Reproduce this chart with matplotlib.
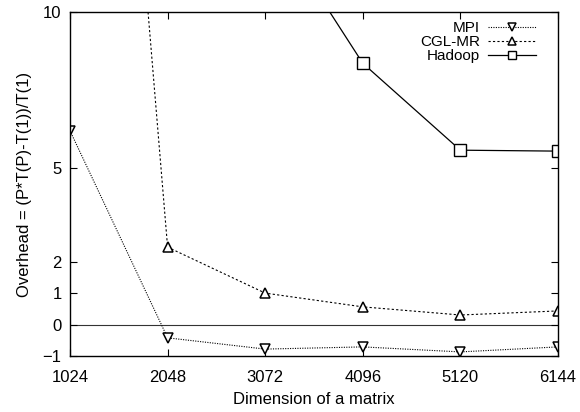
import matplotlib
matplotlib.use("Agg")
import matplotlib.pyplot as plt

plt.rcParams["font.family"] = ["Liberation Sans", "DejaVu Sans"]

# ── data ─────────────────────────────────────────────────────────────────────
dims = [1024, 2048, 3072, 4096, 5120, 6144]
mpi = [6.2, -0.42, -0.78, -0.71, -0.87, -0.71]
cgl_mr = [40.0, 2.48, 1.01, 0.57, 0.31, 0.44]
hadoop_dims = [3072, 4096, 5120, 6144]
hadoop = [13.2, 8.36, 5.58, 5.55]

y_ticks = [-1, 0, 1, 2, 5, 10]

# ── plot ─────────────────────────────────────────────────────────────────────
fig = plt.figure(figsize=(5.8, 4.12), dpi=100)
ax = fig.add_axes([0.1207, 0.136, 0.962 - 0.1207, 0.971 - 0.136])

ax.axhline(0, color="#333333", lw=0.8, zorder=1)

ax.plot(dims, mpi, color="black", lw=0.8, ls=(0, (1, 1.2)),
        marker="v", ms=7, mfc="white", mec="black", mew=1.1, label="MPI")
ax.plot(dims, cgl_mr, color="black", lw=0.8, ls=(0, (2, 2)),
        marker="^", ms=7, mfc="white", mec="black", mew=1.1, label="CGL-MR")
ax.plot(hadoop_dims, hadoop, color="black", lw=0.9, ls="-",
        marker="s", ms=8, mfc="white", mec="black", mew=1.0, label="Hadoop")

ax.set_xlim(1024, 6144)
ax.set_ylim(-1, 10)
ax.set_xticks(dims)
ax.set_yticks(y_ticks)
ax.tick_params(direction="in", top=True, right=True, labelsize=12,
               length=5, width=0.8)
ax.tick_params(axis="x", pad=10)
ax.tick_params(axis="y", pad=6)

for s in ax.spines.values():
    s.set_linewidth(1.0)

ax.set_xlabel("Dimension of a matrix", fontsize=12, labelpad=5)
ax.set_ylabel("Overhead = (P*T(P)-T(1))/T(1)", fontsize=12, labelpad=8)

ax.legend(loc="upper right", bbox_to_anchor=(0.967, 0.99), frameon=False,
          markerfirst=False, fontsize=11, handlelength=3.1,
          handletextpad=0.55, labelspacing=0.0, borderaxespad=0.0,
          markerscale=0.8)

plt.savefig("out.png", dpi=100, facecolor="white")
